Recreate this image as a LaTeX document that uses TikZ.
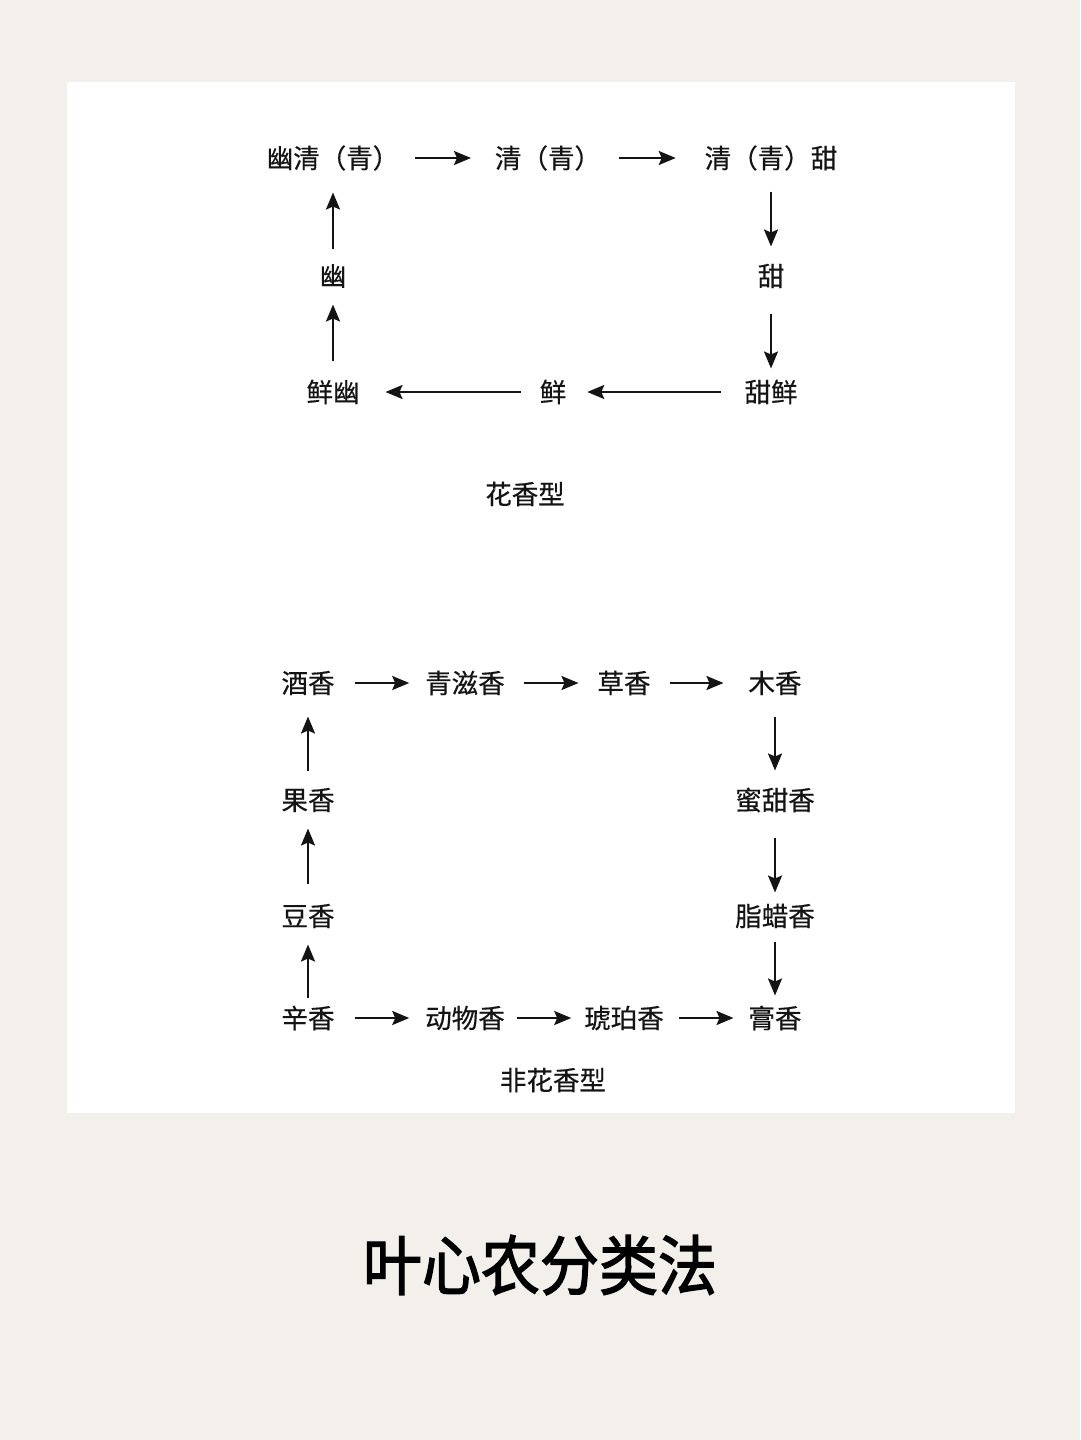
\documentclass[tikz,border=0pt]{standalone}
\usepackage{fontspec}
\setmainfont{Noto Sans CJK SC}
\newfontfamily\cjk{Noto Sans CJK SC}[FakeBold=0.5]
\newfontfamily\titlefont{Noto Sans CJK SC}[FakeBold=2.2]
\usetikzlibrary{arrows.meta}
\definecolor{pagebg}{HTML}{F3F0EC}
\definecolor{ink}{HTML}{141414}
\tikzset{
  lbl/.style={inner sep=0pt, outer sep=0pt, text=ink, font=\cjk\fontsize{26.5pt}{28pt}\selectfont, minimum height=27pt},
  arr/.style={draw=ink, line width=2.2pt, -{Stealth[length=17pt,width=14pt,inset=3pt]}},
}
\begin{document}
\begin{tikzpicture}[x=1pt,y=-1pt]
\fill[pagebg] (0,0) rectangle (1080,1440);
\useasboundingbox (0,0) rectangle (1080,1440);
\fill[white] (67,82) rectangle (1015,1113);

% ---- top diagram: 花香型
\node[lbl] (a1) at (333,158) {幽清（青）};
\node[lbl] (a2) at (548,158) {清（青）};
\node[lbl] (a3) at (771,158) {清（青）甜};
\node[lbl] (a4) at (771,276) {甜};
\node[lbl] (a5) at (771,392) {甜鲜};
\node[lbl] (a6) at (553,392) {鲜};
\node[lbl] (a7) at (333,392) {鲜幽};
\node[lbl] (a8) at (333,276) {幽};
\node[lbl] (t1) at (525,494) {花香型};

\draw[arr, shorten <=16pt, shorten >=24pt] (a1) -- (a2);
\draw[arr, shorten <=18pt, shorten >=29pt] (a2) -- (a3);
\draw[arr, shorten <=20pt, shorten >=16pt] (a3) -- (a4);
\draw[arr, shorten <=24pt, shorten >=10pt] (a4) -- (a5);
\draw[arr, shorten <=24pt, shorten >=21pt] (a5) -- (a6);
\draw[arr, shorten <=19pt, shorten >=26pt] (a6) -- (a7);
\draw[arr, shorten <=18pt, shorten >=15pt] (a7) -- (a8);
\draw[arr, shorten <=14pt, shorten >=21pt] (a8) -- (a1);

% ---- bottom diagram: 非花香型
\node[lbl] (b1) at (308,683) {酒香};
\node[lbl] (b2) at (465,683) {青滋香};
\node[lbl] (b3) at (624,683) {草香};
\node[lbl] (b4) at (775,683) {木香};
\node[lbl] (b5) at (775,800) {蜜甜香};
\node[lbl] (b6) at (775,916) {脂蜡香};
\node[lbl] (b7) at (775,1018) {膏香};
\node[lbl] (b8) at (624,1018) {琥珀香};
\node[lbl] (b9) at (465,1018) {动物香};
\node[lbl] (b10) at (308,1018) {辛香};
\node[lbl] (b11) at (308,916) {豆香};
\node[lbl] (b12) at (308,800) {果香};
\node[lbl] (t2) at (553,1080) {非花香型};

\draw[arr, shorten <=20pt, shorten >=16pt] (b1) -- (b2);
\draw[arr, shorten <=19pt, shorten >=19pt] (b2) -- (b3);
\draw[arr, shorten <=19pt, shorten >=25pt] (b3) -- (b4);
\draw[arr, shorten <=20pt, shorten >=16pt] (b4) -- (b5);
\draw[arr, shorten <=24pt, shorten >=10pt] (b5) -- (b6);
\draw[arr, shorten <=12pt, shorten >=9pt] (b6) -- (b7);
\draw[arr, shorten <=20pt, shorten >=16pt] (b10) -- (b9);
\draw[arr, shorten <=12pt, shorten >=13pt] (b9) -- (b8);
\draw[arr, shorten <=15pt, shorten >=15pt] (b8) -- (b7);
\draw[arr, shorten <=7pt, shorten >=15pt] (b10) -- (b11);
\draw[arr, shorten <=19pt, shorten >=15pt] (b11) -- (b12);
\draw[arr, shorten <=16pt, shorten >=20pt] (b12) -- (b1);

% ---- title
\node[inner sep=0pt, text=black, font=\titlefont\fontsize{59pt}{62pt}\selectfont, yscale=1.1, transform shape] (title) at (540,1265) {叶心农分类法};
\end{tikzpicture}
\end{document}
